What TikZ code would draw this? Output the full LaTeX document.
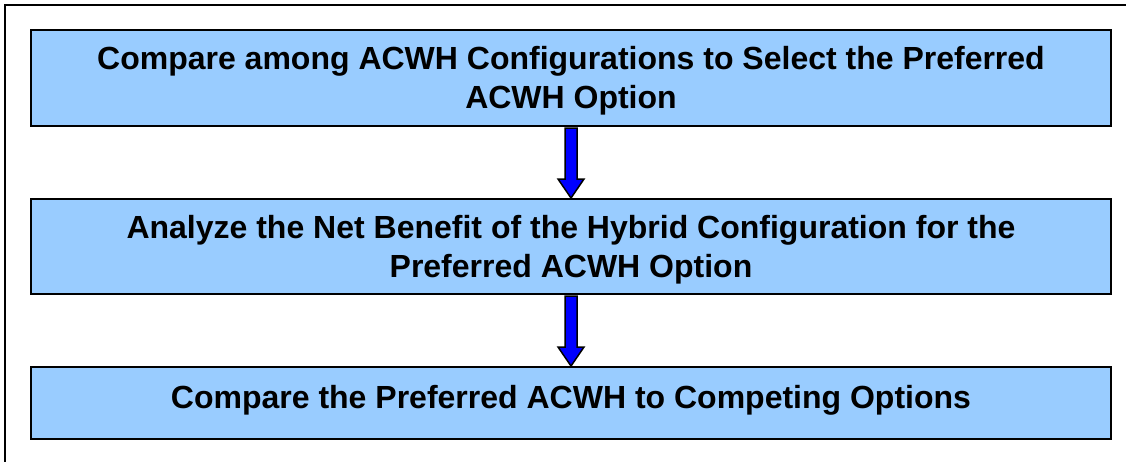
\documentclass[tikz,border=0pt]{standalone}
\usepackage{fontspec}
\setmainfont{Liberation Sans}
\usetikzlibrary{calc}
\definecolor{boxblue}{HTML}{99CCFF}
\definecolor{arrowblue}{HTML}{0000FF}
\tikzset{
  stepbox/.style={draw=black, line width=2pt, fill=boxblue, minimum width=1080pt, inner sep=0pt},
  steptext/.style={inner sep=0pt, align=center, font=\fontsize{32}{39}\selectfont\bfseries},
  blockarrow/.style={draw=black, line width=1.5pt, fill=arrowblue, line join=miter}
}
\begin{document}
\begin{tikzpicture}[x=1pt,y=-1pt]
\useasboundingbox (0,0) rectangle (1126,461);
\clip (0,0) rectangle (1126,461);
\draw[line width=1.5pt] (5,5) rectangle (1150,480);
\node[stepbox, minimum height=96pt] (b1) at (571,78) {};
\node[stepbox, minimum height=95pt] (b2) at (571,246.5) {};
\node[stepbox, minimum height=72pt] (b3) at (571,403) {};
\node[steptext] (t1) at ($(b1.center)+(0,3)$) {Compare among ACWH Configurations to Select the Preferred\\ACWH Option};
\node[steptext] (t2) at ($(b2.center)+(0,3)$) {Analyze the Net Benefit of the Hybrid Configuration for the\\Preferred ACWH Option};
\node[steptext] (t3) at ($(b3.center)+(0,-3)$) {Compare the Preferred ACWH to Competing Options};
\foreach \a/\b in {b1/b2, b2/b3}{
  \filldraw[blockarrow] ($(\a.south)+(-6,1)$) -- ($(\b.north)+(-6,-19)$) -- ($(\b.north)+(-13,-19)$) -- (\b.north) -- ($(\b.north)+(13,-19)$) -- ($(\b.north)+(6,-19)$) -- ($(\a.south)+(6,1)$) -- cycle;
}
\end{tikzpicture}
\end{document}
